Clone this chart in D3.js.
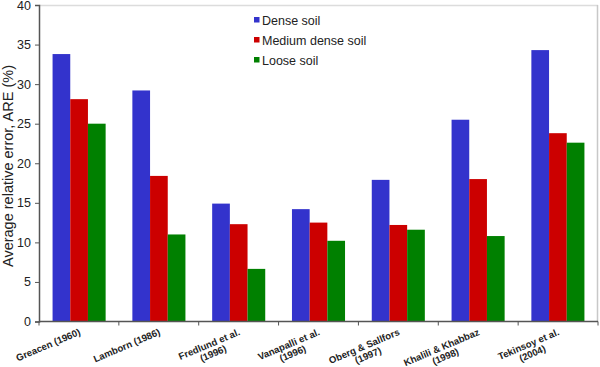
<!DOCTYPE html>
<html><head><meta charset="utf-8">
<script src="https://cdn.jsdelivr.net/npm/d3@7"></script>
<style>body{margin:0;background:#fff}svg{display:block}</style>
</head><body>
<svg id="c" width="600" height="367"></svg>
<script>
const categories = [["Greacen (1960)"],["Lamborn (1986)"],["Fredlund et al.","(1996)"],["Vanapalli et al.","(1996)"],["Oberg & Sallfors","(1997)"],["Khalili & Khabbaz","(1998)"],["Tekinsoy et al.","(2004)"]];
const seriesNames = ["Dense soil","Medium dense soil","Loose soil"];
const dense = [33.8, 29.2, 14.9, 14.2, 17.9, 25.5, 34.3];
const medium = [28.1, 18.4, 12.3, 12.5, 12.2, 18.0, 23.8];
const loose = [25.0, 11.0, 6.65, 10.2, 11.6, 10.8, 22.6];
const yTicks = [0,5,10,15,20,25,30,35,40];
const colors = ["#3333cc","#cc0000","#008000"];

const series = [dense, medium, loose];
const svg = d3.select("#c");
const L=39, R=598, T=5, B=321.5;
const x = d3.scaleBand().domain(d3.range(categories.length)).range([L,R]).paddingInner(0.335).paddingOuter(0.17);
const xs = d3.scaleBand().domain(d3.range(3)).range([0,x.bandwidth()]);
const y = d3.scaleLinear().domain([0,40]).range([B,T]);

// frame
svg.append("line").attr("x1",L).attr("x2",R).attr("y1",T+0.5).attr("y2",T+0.5).attr("stroke","#dcdcdc").attr("stroke-width",1.5);
svg.append("line").attr("x1",R-0.5).attr("x2",R-0.5).attr("y1",T).attr("y2",B).attr("stroke","#c8c8c8").attr("stroke-width",1.5);

// bars
series.forEach((s,si)=>{
  svg.append("g").selectAll("rect").data(s).join("rect")
    .attr("x",(d,i)=>x(i)+xs(si))
    .attr("width",xs.bandwidth())
    .attr("y",d=>y(d))
    .attr("height",d=>B-y(d))
    .attr("fill",colors[si]);
});

// y axis
const ya = svg.append("g").attr("transform",`translate(${L},0)`)
  .call(d3.axisLeft(y).tickValues(yTicks).tickSize(4).tickPadding(4));
ya.select(".domain").attr("stroke","#555").attr("stroke-width",1.5);
ya.selectAll(".tick line").attr("stroke","#555");
ya.selectAll(".tick text").attr("font-family","Liberation Sans, Arial, sans-serif").attr("font-size",12.5).attr("fill","#222");

// x axis
const step = (R-L)/categories.length;
const boundaries = d3.range(categories.length+1).map(i=>L+i*step);
const xa = svg.append("g");
xa.append("line").attr("x1",L).attr("x2",R).attr("y1",B).attr("y2",B).attr("stroke","#555").attr("stroke-width",1.5);
xa.selectAll("line.tk").data(boundaries).join("line").attr("class","tk")
  .attr("x1",d=>d).attr("x2",d=>d).attr("y1",B).attr("y2",B+4).attr("stroke","#555");

// x labels
categories.forEach((lines,i)=>{
  const cx = x(i)+x.bandwidth()/2;
  const g = svg.append("g").attr("transform",`translate(${cx+2},${B+13}) rotate(-23)`);
  const texts = lines.map((ln,j)=>g.append("text").text(ln)
    .attr("font-family","Liberation Sans, Arial, sans-serif").attr("font-weight","bold")
    .attr("font-size",9.6).attr("fill","#222").attr("y",j*10));
  const w = d3.max(texts,t=>t.node().getComputedTextLength());
  texts.forEach(t=>t.attr("text-anchor","middle").attr("x",-w/2));
});

// y title
svg.append("text").attr("transform","translate(13,166) rotate(-90)")
  .attr("text-anchor","middle").attr("font-family","Liberation Sans, Arial, sans-serif")
  .attr("font-size",14.5).attr("fill","#222").text("Average relative error, ARE (%)");

// legend
seriesNames.forEach((n,i)=>{
  const yy = 20 + i*20;
  svg.append("rect").attr("x",254).attr("y",yy-3).attr("width",5.5).attr("height",5.5).attr("fill",colors[i]);
  svg.append("text").attr("x",262).attr("y",yy+4.5).attr("font-family","Liberation Sans, Arial, sans-serif")
    .attr("font-size",12.5).attr("fill","#222").text(n);
});
</script>
</body></html>
